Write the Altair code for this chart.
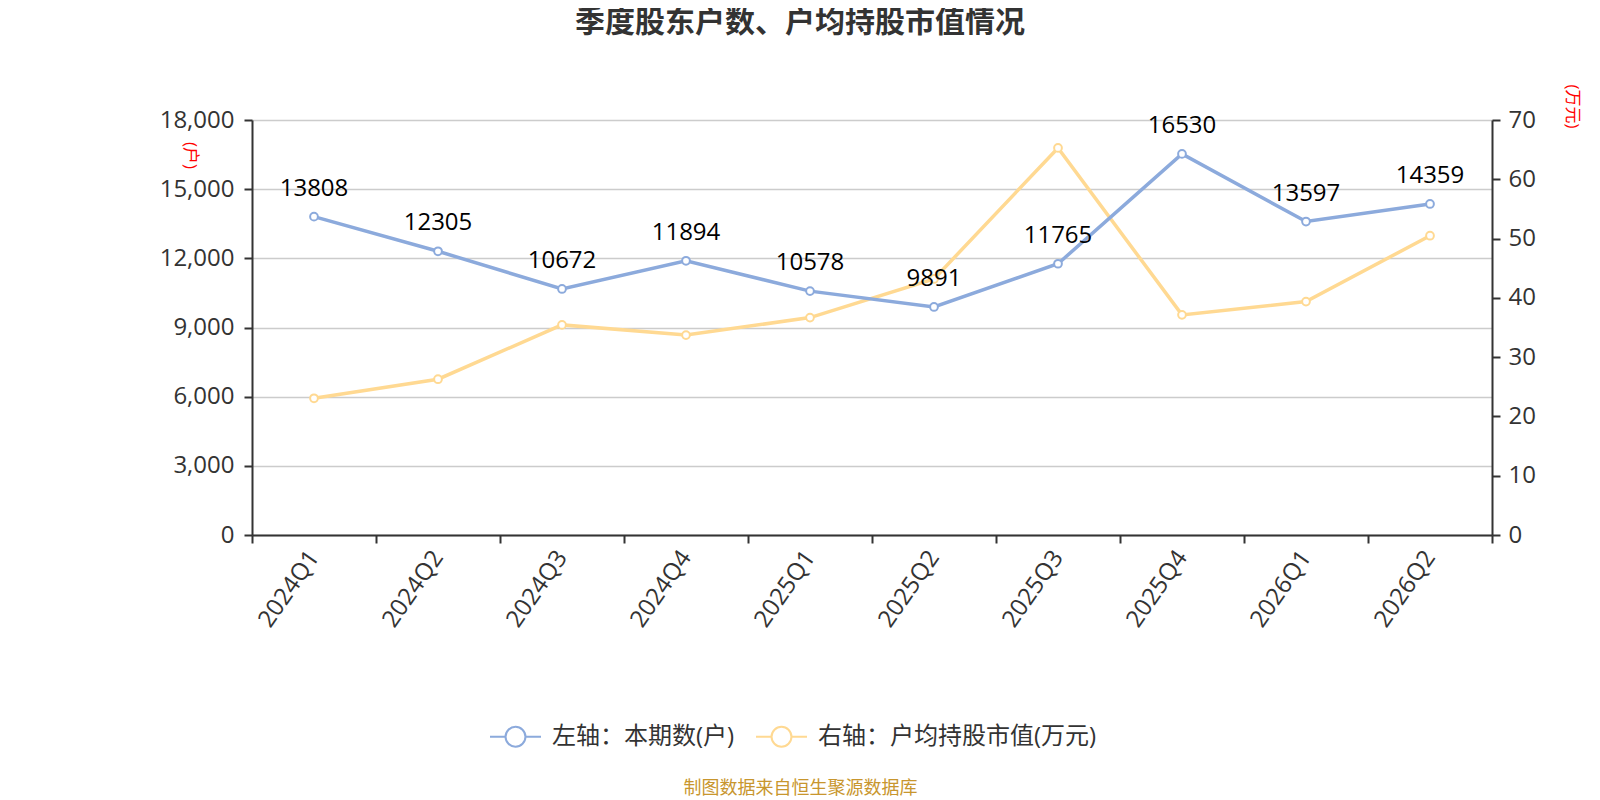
import altair as alt
import pandas as pd

quarters = ["2024Q1", "2024Q2", "2024Q3", "2024Q4", "2025Q1",
            "2025Q2", "2025Q3", "2025Q4", "2026Q1", "2026Q2"]
holders = [13808, 12305, 10672, 11894, 10578, 9891, 11765, 16530, 13597, 14359]
avg_value = [23.06, 26.28, 35.44, 33.72, 36.67, 43.19, 65.29, 37.13, 39.37, 50.48]
left_ticks = [0, 3000, 6000, 9000, 12000, 15000, 18000]
right_ticks = [0, 10, 20, 30, 40, 50, 60, 70]
series_names = ["左轴：本期数(户)", "右轴：户均持股市值(万元)"]
series_colors = ["#8CAADC", "#FFD992"]

FONT = "Open Sans, Noto Sans CJK SC, sans-serif"
TXT = "#333333"

df = pd.DataFrame({
    "quarter": quarters,
    "holders": holders,
    "avg": avg_value,
    "s1": [series_names[0]] * len(quarters),
    "s2": [series_names[1]] * len(quarters),
})

legend_symbol = ("M-1,0L-0.39,0M0.39,0L1,0M0.39,0"
                 "A0.39,0.39,0,1,1,-0.39,0A0.39,0.39,0,1,1,0.39,0Z")

def make_legend():
    return alt.Legend(
        title=None, orient="none", legendX=237, legendY=590,
        direction="horizontal", columns=2,
        symbolType=legend_symbol, symbolSize=2601, symbolStrokeWidth=2,
        symbolFillColor="white", symbolOpacity=1,
        labelFontSize=24, labelColor=TXT, labelFont=FONT,
        labelOffset=10, columnPadding=17, labelLimit=0,
    )

stroke_scale = alt.Scale(domain=series_names, range=series_colors)

x_enc = alt.X(
    "quarter:N", sort=quarters, bandPosition=0.5,
    scale=alt.Scale(type="band", paddingInner=0, paddingOuter=0),
    axis=alt.Axis(
        tickBand="extent", labelAngle=-55, labelAlign="right",
        labelBaseline="middle", labelPadding=10, tickSize=8,
        labelFontSize=24, labelColor=TXT, labelFont=FONT,
        domainColor=TXT, domainWidth=2, tickColor=TXT, tickWidth=2,
        grid=False,
        title="制图数据来自恒生聚源数据库", titleX=548, titleY=258,
        titleAlign="center", titleBaseline="alphabetic", titleAngle=0,
        titleFontSize=18, titleFontWeight="normal", titleColor="#C8962E",
        titleFont=FONT,
    ),
)

y_left = alt.Y(
    "holders:Q",
    scale=alt.Scale(domain=[0, 18000], nice=False),
    axis=alt.Axis(
        orient="left", values=left_ticks, format=",d", tickSize=8,
        labelPadding=10, labelFontSize=24, labelColor=TXT, labelFont=FONT,
        domainColor=TXT, domainWidth=2, tickColor=TXT, tickWidth=2,
        grid=True, gridColor="#CCCCCC", gridWidth=1.5,
        title="(户)", titleAngle=90, titleX=-63, titleY=35,
        titleAlign="center", titleBaseline="middle",
        titleColor="#FF0000", titleFontSize=17, titleFontWeight="normal",
        titleFont=FONT,
    ),
)

y_right = alt.Y(
    "avg:Q",
    scale=alt.Scale(domain=[0, 70], nice=False),
    axis=alt.Axis(
        orient="right", values=right_ticks, format="d", tickSize=8,
        labelPadding=8, labelFontSize=24, labelColor=TXT, labelFont=FONT,
        domainColor=TXT, domainWidth=2, tickColor=TXT, tickWidth=2,
        grid=False,
        title="(万元)", titleAngle=90, titleX=79, titleY=-14,
        titleAlign="center", titleBaseline="middle",
        titleColor="#FF0000", titleFontSize=17, titleFontWeight="normal",
        titleFont=FONT,
    ),
)

base = alt.Chart(df)

yellow_line = base.mark_line(strokeWidth=3.5).encode(
    x=x_enc, y=y_right,
    stroke=alt.Stroke("s2:N", scale=stroke_scale, legend=make_legend()),
)
yellow_pts = base.mark_point(shape="circle", filled=True, fill="white",
                             size=60, strokeWidth=2, opacity=1).encode(
    x=x_enc, y=y_right,
    stroke=alt.Stroke("s2:N", scale=stroke_scale, legend=make_legend()),
)

blue_line = base.mark_line(strokeWidth=3.5).encode(
    x=x_enc, y=y_left,
    stroke=alt.Stroke("s1:N", scale=stroke_scale, legend=make_legend()),
)
blue_pts = base.mark_point(shape="circle", filled=True, fill="white",
                           size=60, strokeWidth=2, opacity=1).encode(
    x=x_enc, y=y_left,
    stroke=alt.Stroke("s1:N", scale=stroke_scale, legend=make_legend()),
)
blue_labels = base.mark_text(dy=-21, baseline="alphabetic", align="center",
                             fontSize=24, font=FONT, color="#000000").encode(
    x=x_enc, y=y_left,
    text=alt.Text("holders:Q", format="d"),
)

right_layer = alt.layer(yellow_line, yellow_pts)
left_layer = alt.layer(blue_line, blue_pts, blue_labels)

chart = alt.layer(right_layer, left_layer).resolve_scale(
    y="independent"
).properties(
    width=1240, height=415,
    padding={"left": 244, "top": 112, "right": 92, "bottom": 265},
    autosize=alt.AutoSizeParams(type="none"),
    title=alt.TitleParams(
        text="季度股东户数、户均持股市值情况", fontSize=30, fontWeight="bold",
        color=TXT, font=FONT, anchor="middle", frame="group", dx=-72,
        offset=22, baseline="alphabetic",
    ),
).configure_view(stroke=None).configure(background="white")

chart.save("out.html", embed_options={"renderer": "svg", "actions": False})
